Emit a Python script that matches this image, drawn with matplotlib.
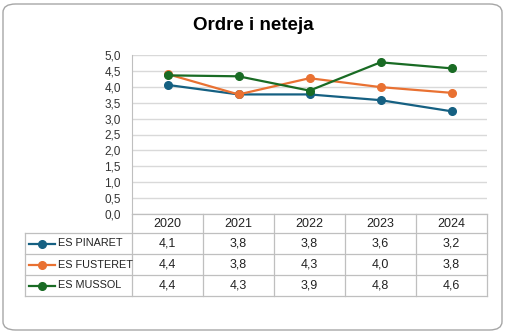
import matplotlib.pyplot as plt
from matplotlib.patches import FancyBboxPatch

years = ["2020", "2021", "2022", "2023", "2024"]
series = ["ES PINARET", "ES FUSTERET", "ES MUSSOL"]
pinaret = [4.06, 3.76, 3.76, 3.58, 3.23]
fusteret = [4.40, 3.76, 4.27, 3.99, 3.81]
mussol = [4.36, 4.33, 3.88, 4.77, 4.58]
colors = ["#156082", "#E97132", "#196B24"]
yticks = [0, 0.5, 1, 1.5, 2, 2.5, 3, 3.5, 4, 4.5, 5]

plt.rcParams['font.family'] = ['Liberation Sans', 'DejaVu Sans']

W, H = 507, 333
fig = plt.figure(figsize=(W / 100, H / 100), dpi=100)

# rounded chart border
fig.patches.append(FancyBboxPatch((3 / W, 3 / H), 499 / W, 326 / H,
                                  boxstyle="round,pad=0,rounding_size=0.025",
                                  transform=fig.transFigure, fill=False,
                                  edgecolor="#a6a6a6", linewidth=1.0))

fig.text(253 / W, 1 - 25 / H, "Ordre i neteja", ha="center", va="center",
         fontsize=13.5, fontweight="bold")

def px(x0, y0, x1, y1):
    return [x0 / W, 1 - y1 / H, (x1 - x0) / W, (y1 - y0) / H]

ax = fig.add_axes(px(132, 55, 487, 214))
x = list(range(len(years)))
for vals, c in zip([pinaret, fusteret, mussol], colors):
    ax.plot(x, vals, color=c, lw=1.6, marker="o", ms=5.5, zorder=3)
ax.set_xlim(-0.5, len(years) - 0.5)
ax.set_ylim(0, 5)
ax.set_yticks(yticks)
ax.set_yticklabels([f"{t:.1f}".replace(".", ",") for t in yticks],
                   fontsize=8.5, color="#333333")
ax.set_xticks([])
ax.tick_params(axis="y", length=0, pad=8)
ax.grid(axis="y", color="#d9d9d9", lw=1)
ax.set_axisbelow(True)
for s in ["top", "right", "bottom"]:
    ax.spines[s].set_visible(False)
ax.spines["left"].set_color("#bfbfbf")

# data table below the plot
tab = fig.add_axes(px(25, 214, 487, 296))
tab.set_xlim(25, 487)
tab.set_ylim(296, 214)
tab.axis("off")
lc = "#bfbfbf"
col_x = [132 + 71 * i for i in range(len(years) + 1)]
row_y = [214, 233, 254, 275, 296]
for cx in col_x:
    tab.plot([cx, cx], [214, 296], color=lc, lw=0.9, clip_on=False)
tab.plot([25, 25], [233, 296], color=lc, lw=0.9, clip_on=False)
tab.plot([132, 487], [214, 214], color=lc, lw=0.9, clip_on=False)
for ry in row_y[1:]:
    tab.plot([25, 487], [ry, ry], color=lc, lw=0.9, clip_on=False)

for i, yr in enumerate(years):
    tab.text(col_x[i] + 35.5, 224, yr, ha="center", va="center", fontsize=9,
             color="#222222")
for r, (name, vals, c) in enumerate(zip(series, [pinaret, fusteret, mussol], colors)):
    yc = (row_y[r + 1] + row_y[r + 2]) / 2
    tab.plot([29, 55], [yc, yc], color=c, lw=1.6, clip_on=False)
    tab.plot([42], [yc], marker="o", color=c, ms=5.5, clip_on=False)
    tab.text(58, yc, name, ha="left", va="center", fontsize=7.8,
             color="#222222")
    for i, v in enumerate(vals):
        tab.text(col_x[i] + 35.5, yc, f"{v:.1f}".replace(".", ","),
                 ha="center", va="center", fontsize=9, color="#222222")

fig.savefig("out.png", dpi=100)
